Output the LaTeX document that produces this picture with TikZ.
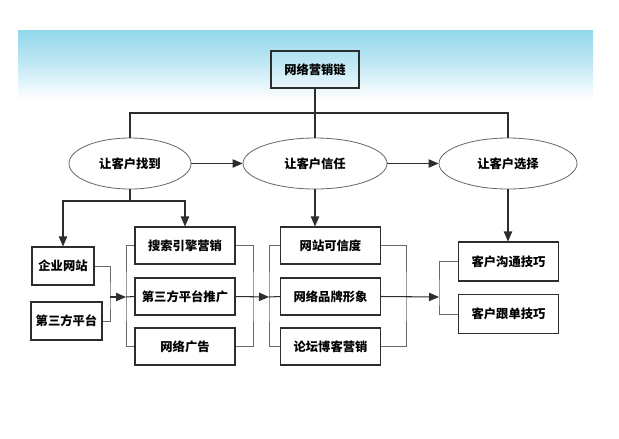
\documentclass[tikz,border=0pt]{standalone}
\usepackage{fontspec}
\newfontfamily\cjk{Noto Sans CJK SC}
\usetikzlibrary{shapes.geometric,arrows.meta}
\definecolor{bandblue}{RGB}{146,214,236}
\definecolor{linegray}{RGB}{45,45,45}
\definecolor{brgray}{RGB}{105,105,105}

\begin{document}
\begin{tikzpicture}[x=0.03cm, y=-0.03cm,
    font=\cjk\bfseries\fontsize{10.5}{12}\selectfont,
    >={Triangle[length=0.3cm,width=0.25cm]},
    box/.style={rectangle, draw=linegray, line width=0.9pt, fill=white,
      minimum width=3cm, minimum height=1.11cm, inner sep=0pt},
    oval/.style={ellipse, draw=brgray, line width=0.7pt, fill=white,
      minimum height=1.53cm, inner sep=0pt},
    link/.style={draw=linegray, line width=0.9pt},
    bracket/.style={draw=brgray, line width=0.7pt}
    ]
    \useasboundingbox (0,0) rectangle (619,438);
    \shade[top color=bandblue, bottom color=white, middle color=bandblue!55!white]
      (18,30) rectangle (593,100);

    \node[box, fill=none, minimum width=2.64cm] (top) at (315,69.5) {网络营销链};

    \node[oval, minimum width=3.66cm] (e1) at (130,163.5) {让客户找到};
    \node[oval, minimum width=4.32cm] (e2) at (315,163.5) {让客户信任};
    \node[oval, minimum width=4.14cm] (e3) at (508,163.5) {让客户选择};

    \node[box, minimum width=1.86cm, minimum height=1.14cm] (a1) at (63,266) {企业网站};
    \node[box, minimum width=2.13cm, minimum height=1.14cm] (a2) at (66.5,321) {第三方平台};

    \node[box] (b1) at (185,245.5) {搜索引擎营销};
    \node[box] (b2) at (185,296.5) {第三方平台推广};
    \node[box] (b3) at (185,346.5) {网络广告};

    \node[box] (c1) at (330.5,245.5) {网站可信度};
    \node[box] (c2) at (330.5,296.5) {网络品牌形象};
    \node[box] (c3) at (330.5,346.5) {论坛博客营销};

    \node[box, minimum height=1.17cm] (d1) at (508.5,261.5) {客户沟通技巧};
    \node[box, minimum height=1.17cm] (d2) at (508.5,314) {客户跟单技巧};

    \coordinate (split) at (315,113);
    \coordinate (fork) at (130,201);
    \coordinate (j1) at (110,297);
    \coordinate (k1) at (126,297);
    \coordinate (j2) at (253,297);
    \coordinate (k2) at (269,297);
    \coordinate (j3) at (406,297);
    \coordinate (k3) at (439,297);

    \draw[link] (top.south) -- (e2.north);
    \draw[link] (e1.north) |- (split) -| (e3.north);
    \draw[link, ->] (e1.east) -- (e2.west);
    \draw[link, ->] (e2.east) -- (e3.west);

    \draw[link] (e1.south) -- (fork);
    \draw[link, ->] (fork) -| (a1.north);
    \draw[link, ->] (fork) -| (b1.north);
    \draw[link, ->] (e2.south) -- (e2.south |- c1.north);
    \draw[link, ->] (e3.south) -- (e3.south |- d1.north);

    \draw[bracket] (a1.east) -| (j1) |- (a2.east);
    \draw[link, ->] (j1) -- (k1);
    \draw[bracket] (b1.west) -| (k1) |- (b3.west);
    \draw[link] (k1) -- (b2.west);

    \draw[bracket] (b1.east) -| (j2) |- (b3.east);
    \draw[link, ->] (b2.east) -- (k2);
    \draw[bracket] (c1.west) -| (k2) |- (c3.west);
    \draw[link] (k2) -- (c2.west);

    \draw[bracket] (c1.east) -| (j3) |- (c3.east);
    \draw[link, ->] (c2.east) -- (k3);
    \draw[bracket] (d1.west) -| (k3) |- (d2.west);
  \end{tikzpicture}
\end{document}
